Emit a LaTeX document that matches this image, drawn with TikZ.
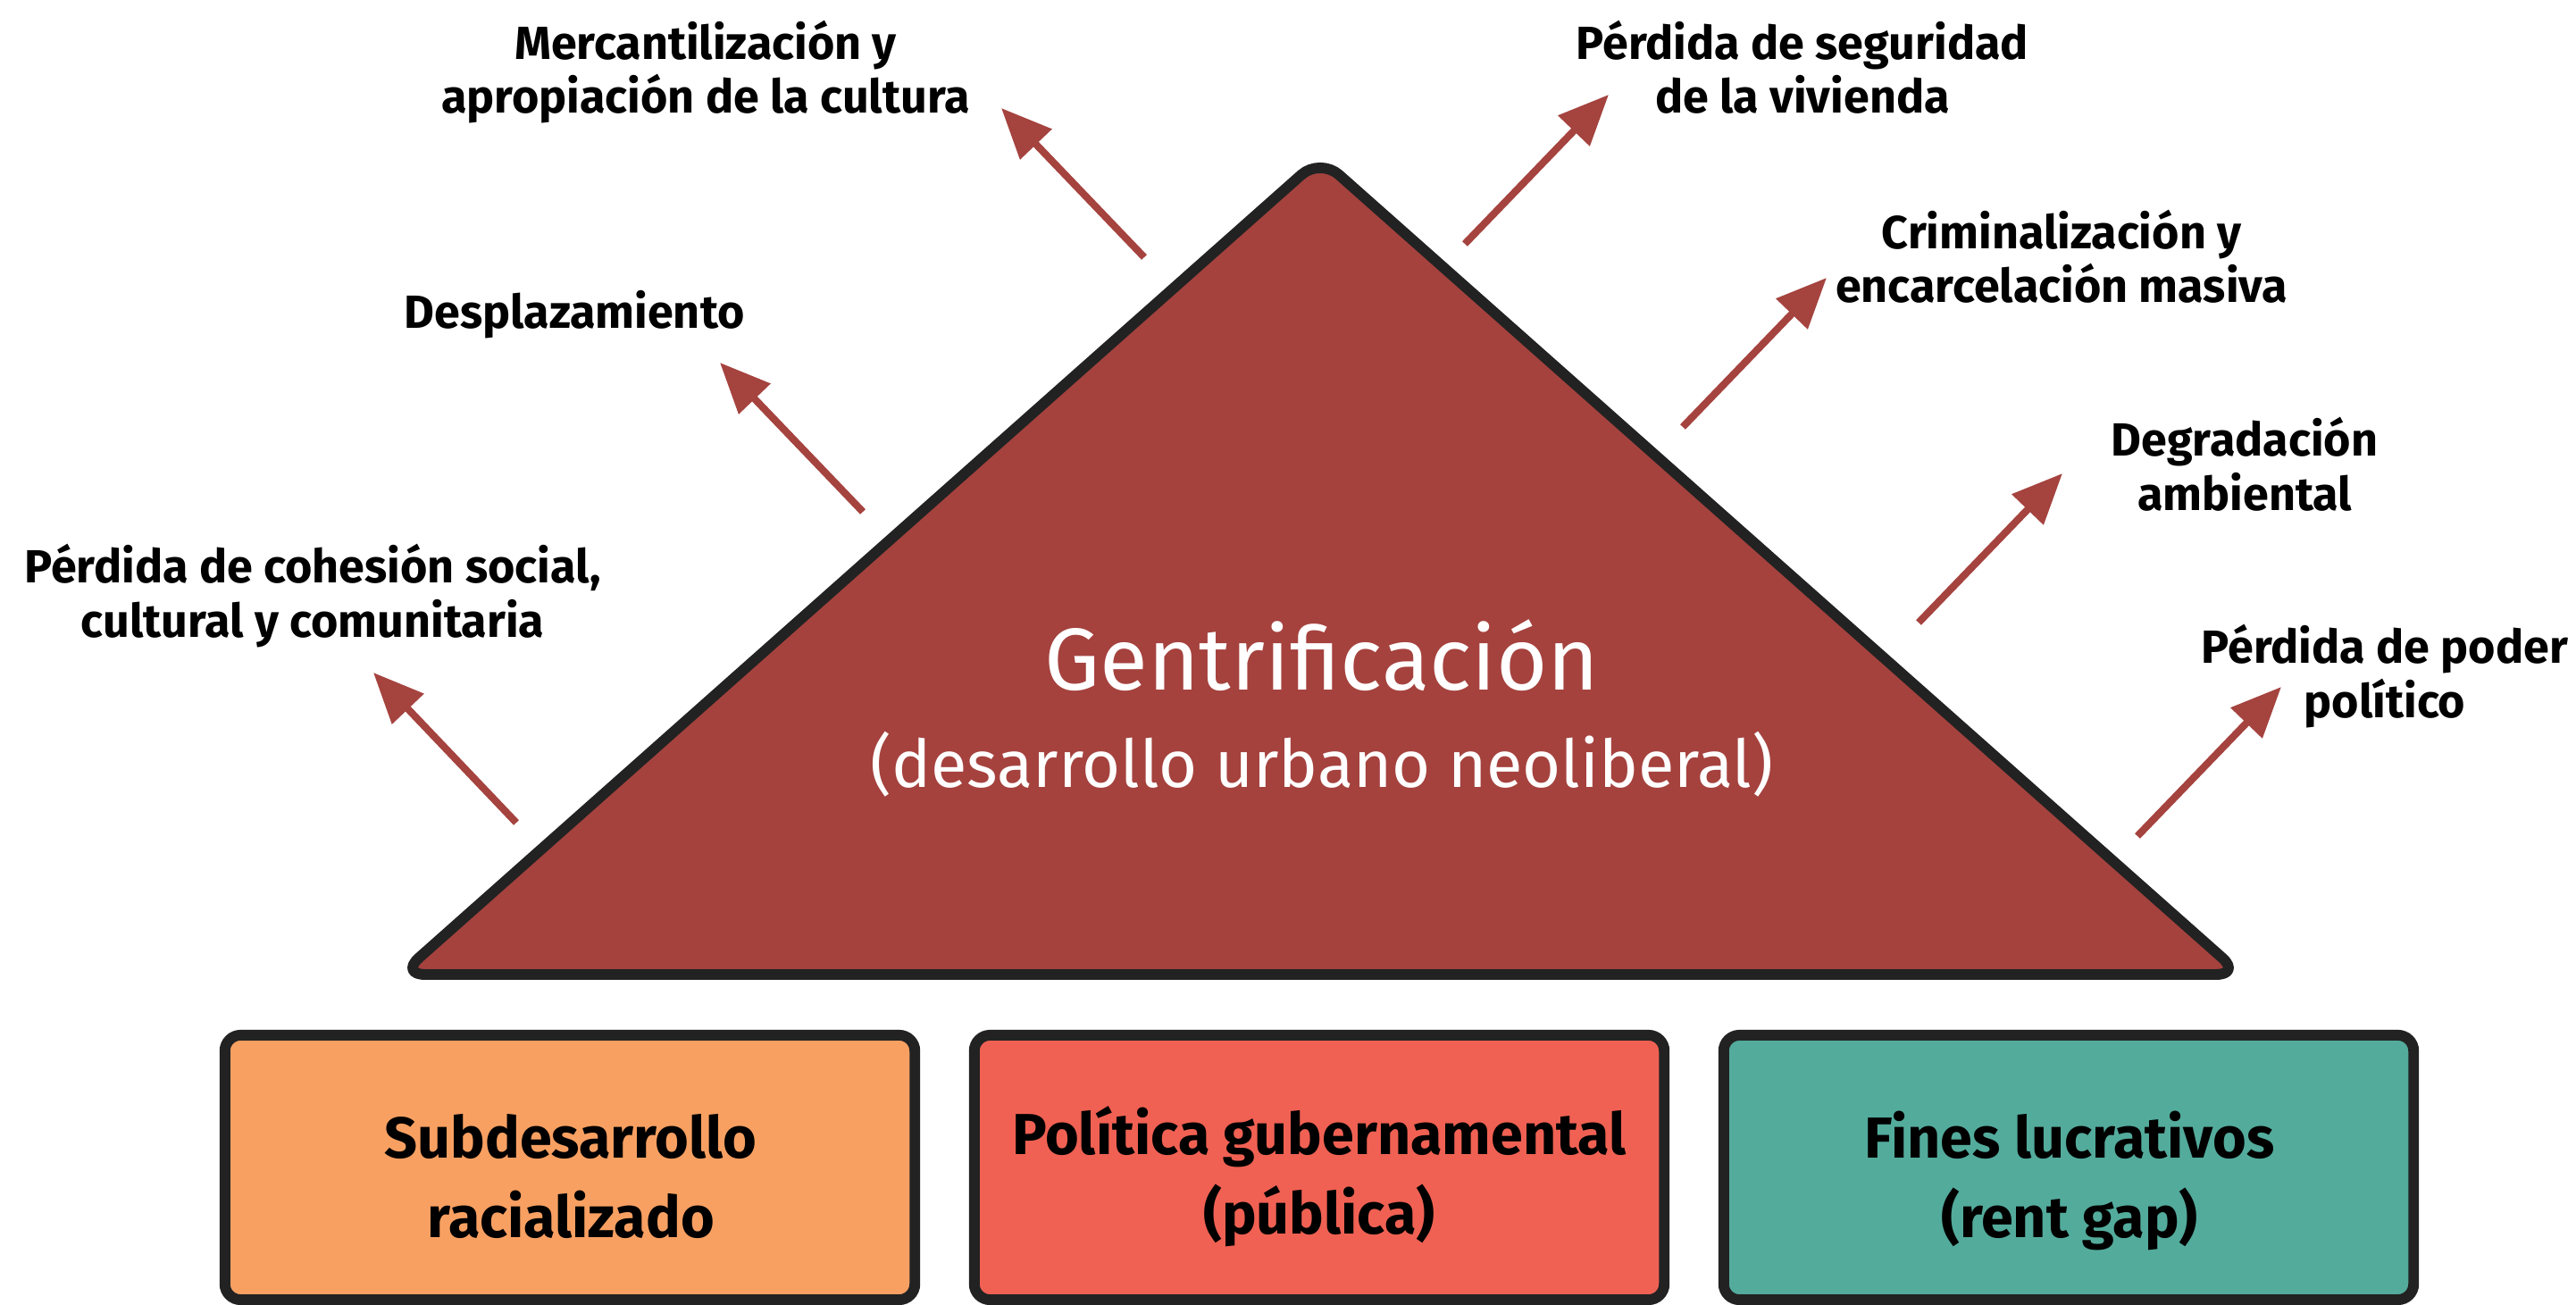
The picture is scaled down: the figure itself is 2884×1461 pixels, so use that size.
\documentclass[tikz,border=0pt]{standalone}
\usepackage{fontspec}
\setmainfont{Fira Sans}
\usetikzlibrary{arrows.meta}
\definecolor{trired}{HTML}{A5423E}
\definecolor{arrowred}{HTML}{A5433F}
\definecolor{inkdark}{HTML}{222222}
\definecolor{boxorange}{HTML}{F8A062}
\definecolor{boxred}{HTML}{F06153}
\definecolor{boxteal}{HTML}{53AB9C}
\tikzset{
  tristyle/.style={draw=inkdark, line width=3.4pt, fill=trired, rounded corners=8pt, line join=round},
  effect/.style={draw=arrowred, line width=2.3pt, -{Triangle[length=16pt,width=13.5pt]}},
  lbl/.style={anchor=base, align=center, inner sep=0pt, font=\fontsize{14.8pt}{17.1pt}\selectfont\bfseries},
  causebox/.style={draw=inkdark, line width=3.4pt, rounded corners=5pt, inner sep=0pt, minimum width=7.72cm, minimum height=2.96cm},
  boxtext/.style={anchor=base, align=center, inner sep=0pt, font=\fontsize{18.4pt}{25.3pt}\selectfont\bfseries},
  titletext/.style={anchor=base, inner sep=0pt, text=white}
}
\begin{document}
\begin{tikzpicture}[x=0.01cm, y=-0.01cm]
\useasboundingbox (0,0) rectangle (2884,1461);

% triangle
\draw[tristyle] (448,1091) -- (1478,177) -- (2509,1091) -- cycle;
\node[titletext, font=\fontsize{28pt}{33pt}\selectfont] (gen) at (1480,772) {Gentrificación};
\node[titletext, font=\fontsize{21pt}{25pt}\selectfont] (gensub) at (1480,881) {(desarrollo urbano neoliberal)};

% boxes
\node[causebox, fill=boxorange] (b1) at (638,1307) {};
\node[causebox, fill=boxred] (b2) at (1477,1307) {};
\node[causebox, fill=boxteal] (b3) at (2316,1307) {};
\node[boxtext] (t1) at (639,1385) {Subdesarrollo\\racializado};
\node[boxtext] (t2) at (1477,1381) {Política gubernamental\\(pública)};
\node[boxtext] (t3) at (2317,1385) {Fines lucrativos\\(rent gap)};

% labels (anchor = baseline of last line)
\node[lbl] (l1) at (790,127) {Mercantilización y\\apropiación de la cultura};
\node[lbl] (l2) at (2018,127) {Pérdida de seguridad\\de la vivienda};
\node[lbl] (l3) at (643,368) {Desplazamiento};
\node[lbl] (l4) at (2308,339) {Criminalización y\\encarcelación masiva};
\node[lbl] (l5) at (350,713) {Pérdida de cohesión social,\\cultural y comunitaria};
\node[lbl] (l6) at (2513,571) {Degradación\\ambiental};
\node[lbl] (l7) at (2670,803) {Pérdida de poder\\político};

% arrow ends
\coordinate (a1s) at (578,921);  \coordinate (a1e) at (418,753);
\coordinate (a2s) at (966,573);  \coordinate (a2e) at (806,406);
\coordinate (a3s) at (1281,288); \coordinate (a3e) at (1121,121);
\coordinate (a4s) at (1640,273); \coordinate (a4e) at (1801,106);
\coordinate (a5s) at (1884,478); \coordinate (a5e) at (2045,311);
\coordinate (a6s) at (2148,697); \coordinate (a6e) at (2309,530);
\coordinate (a7s) at (2393,936); \coordinate (a7e) at (2554,769);
\foreach \i in {1,...,7} { \draw[effect] (a\i s) -- (a\i e); }
\end{tikzpicture}
\end{document}
